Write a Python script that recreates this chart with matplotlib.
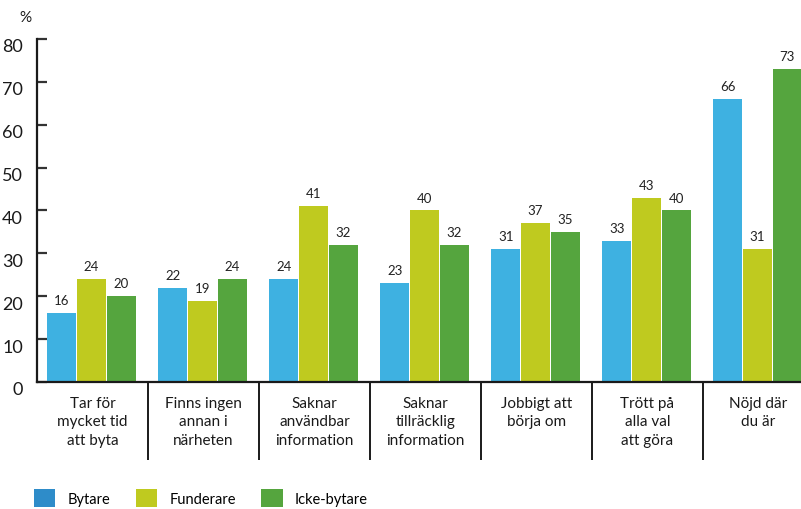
import matplotlib
matplotlib.use("Agg")

import matplotlib.pyplot as plt
import matplotlib.transforms as mtransforms
from matplotlib.patches import Patch
import numpy as np

plt.rcParams["font.family"] = ["Lato", "DejaVu Sans"]

categories = [
    "Tar för\nmycket tid\natt byta",
    "Finns ingen\nannan i\nnärheten",
    "Saknar\nanvändbar\ninformation",
    "Saknar\ntillräcklig\ninformation",
    "Jobbigt att\nbörja om",
    "Trött på\nalla val\natt göra",
    "Nöjd där\ndu är",
]
series_names = ["Bytare", "Funderare", "Icke-bytare"]
bytare = [16, 22, 24, 23, 31, 33, 66]
funderare = [24, 19, 41, 40, 37, 43, 31]
icke_bytare = [20, 24, 32, 32, 35, 40, 73]
yticks = [0, 10, 20, 30, 40, 50, 60, 70, 80]

bar_colors = ["#3eb1e1", "#bfca1f", "#55a53e"]
legend_colors = ["#2e8cc9", "#bfca1f", "#55a53e"]

fig = plt.figure(figsize=(8.01, 5.10), dpi=100)
ax = fig.add_axes([37 / 801, 1 - 383 / 510, 1 - 37 / 801, (383 - 40) / 510])

x = np.arange(len(categories)) + 0.5
width = 0.263
step = 0.268
for k, (vals, color) in enumerate(zip([bytare, funderare, icke_bytare], bar_colors)):
    bars = ax.bar(x - 0.01 + (k - 1) * step, vals, width, color=color, zorder=2)
    for b, v in zip(bars, vals):
        ax.annotate(str(v), (b.get_x() + b.get_width() / 2, v),
                    xytext=(0, 5), textcoords="offset points",
                    ha="center", va="bottom", fontsize=9.5, color="#222222")

ax.set_xlim(0, (801 - 37) / 111)
ax.set_ylim(0, 80)

for side in ["top", "right"]:
    ax.spines[side].set_visible(False)
for side in ["left", "bottom"]:
    ax.spines[side].set_linewidth(1.6)
    ax.spines[side].set_color("#1a1a1a")

ax.set_yticks(yticks)
ax.tick_params(axis="y", direction="in", length=7, width=1.6, color="#333333",
               pad=10, labelsize=13, labelcolor="#1a1a1a")
offset = mtransforms.ScaledTranslation(0, -6 / 100, fig.dpi_scale_trans)
for label in ax.get_yticklabels():
    label.set_transform(label.get_transform() + offset)

ax.set_xticks(x)
ax.set_xticklabels(categories, fontsize=11, linespacing=1.4, color="#1a1a1a")
ax.tick_params(axis="x", which="major", length=0, pad=10)
ax.set_xticks(np.arange(1, len(categories)), minor=True)
ax.tick_params(axis="x", which="minor", direction="out", length=56, width=1.4,
               color="#1a1a1a")

fig.text(25 / 801, 1 - 18 / 510, "%", ha="center", va="center", fontsize=11,
         color="#1a1a1a")

handles = [Patch(facecolor=c, edgecolor="none") for c in legend_colors]
fig.legend(handles, series_names, loc="center left",
           bbox_to_anchor=(34 / 801, 1 - 499 / 510), ncol=3, frameon=False,
           fontsize=10.5, handlelength=1.45, handleheight=1.5,
           handletextpad=0.85, columnspacing=1.75, borderpad=0, borderaxespad=0)

fig.savefig("out.png", dpi=100)
plt.close(fig)
